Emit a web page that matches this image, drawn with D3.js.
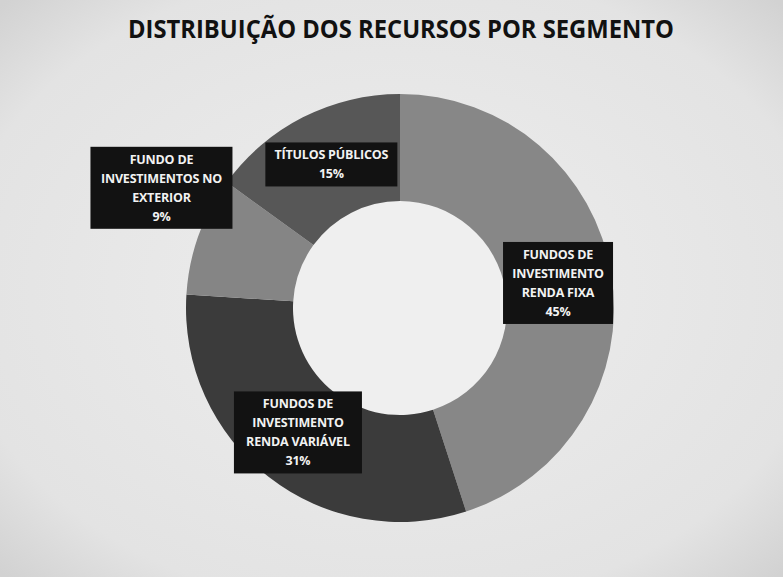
<!DOCTYPE html>
<html><head><meta charset="utf-8">
<script src="https://cdn.jsdelivr.net/npm/d3@7"></script>
<style>html,body{margin:0;padding:0;background:#e4e4e4;}svg{display:block;}</style>
</head><body>
<svg id="chart" width="783" height="577"></svg>
<script>
const title = "DISTRIBUIÇÃO DOS RECURSOS POR SEGMENTO";
const categories = [
  ["FUNDOS DE", "INVESTIMENTO", "RENDA FIXA"],
  ["FUNDOS DE", "INVESTIMENTO", "RENDA VARIÁVEL"],
  ["FUNDO DE", "INVESTIMENTOS NO", "EXTERIOR"],
  ["TÍTULOS PÚBLICOS"]
];
const values = [45, 31, 9, 15];
const colors = ["#878787", "#3b3b3b", "#858585", "#575757"];

const svg = d3.select("#chart");
const W = 783, H = 577;

const defs = svg.append("defs");
const g1 = defs.append("radialGradient").attr("id","bg").attr("cx","50%").attr("cy","50%").attr("r","70%");
g1.append("stop").attr("offset","0%").attr("stop-color","#eeeeee");
g1.append("stop").attr("offset","80%").attr("stop-color","#e3e3e3");
g1.append("stop").attr("offset","100%").attr("stop-color","#d2d2d2");
svg.append("rect").attr("width",W).attr("height",H).attr("fill","url(#bg)");

svg.append("text").attr("x", 401).attr("y", 38).attr("text-anchor","middle")
  .attr("font-family","'Open Sans', sans-serif").attr("font-weight","bold")
  .attr("font-size", 25).attr("fill","#111")
  .attr("textLength", 546).attr("lengthAdjust","spacingAndGlyphs")
  .text(title);

const cx = 400, cy = 308, rOuter = 214, rInner = 107;
const gChart = svg.append("g").attr("transform", `translate(${cx},${cy})`);

gChart.append("circle").attr("r", rInner).attr("fill","#efefef");

const data = categories.map((c,i)=>({lines:c, value:values[i], color:colors[i]}));
const pie = d3.pie().sort(null).value(d=>d.value);
const arc = d3.arc().innerRadius(rInner).outerRadius(rOuter);
const arcs = pie(data);

gChart.selectAll("path.slice").data(arcs).join("path")
  .attr("class","slice").attr("d", arc).attr("fill", d=>d.data.color);

const labelArc = d3.arc().innerRadius(rInner+53).outerRadius(rInner+53);
const offsets = [[0,0],[-4,-2],[-88,-66],[4,-1]];
const boxW = [110, 128, 142, 132];
const lineH = 19;

arcs.forEach((a,i)=>{
  const [x0,y0] = labelArc.centroid(a);
  const x = x0 + offsets[i][0], y = y0 + offsets[i][1];
  const lines = a.data.lines.concat([a.data.value + "%"]);
  const h = lines.length*lineH + 6;
  const lg = gChart.append("g").attr("transform",`translate(${x},${y})`);
  lg.append("rect").attr("x",-boxW[i]/2).attr("y",-h/2).attr("width",boxW[i]).attr("height",h)
    .attr("fill","#121212");
  lines.forEach((t,j)=>{
    lg.append("text").attr("x",0).attr("y",-h/2 + 3 + lineH*(j+0.5)).attr("dy","0.36em")
      .attr("text-anchor","middle").attr("font-family","'Open Sans', sans-serif")
      .attr("font-weight","bold").attr("font-size",12.5).attr("fill","#f2f2f2")
      .attr("letter-spacing","-0.2")
      .text(t);
  });
});
</script>
</body></html>
